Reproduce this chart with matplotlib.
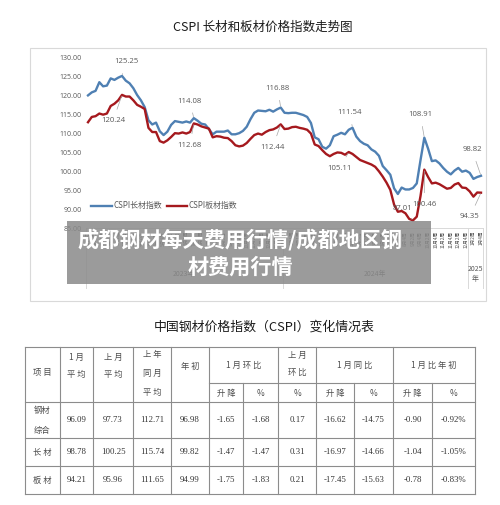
import matplotlib
matplotlib.use('Agg')
import matplotlib.pyplot as plt
from matplotlib.patches import Rectangle
import matplotlib.transforms as mtransforms

plt.rcParams['font.family'] = ['Noto Sans CJK SC', 'DejaVu Sans']

# ---------------- data ----------------
chart_title = 'CSPI 长材和板材价格指数走势图'
series_names = ['CSPI长材指数', 'CSPI板材指数']

long_index = [120.1, 120.9, 121.3, 123.6, 122.5, 122.7, 124.6, 124.2, 124.8, 125.25,
              124.0, 123.3, 122.0, 120.2, 118.8, 117.0, 113.5, 112.4, 112.9, 110.6,
              109.6, 110.5, 112.3, 113.3, 113.1, 112.9, 113.2, 112.9, 114.08, 113.4,
              112.6, 112.4, 111.2, 109.8, 110.5, 110.5, 110.5, 110.8, 109.8, 109.8,
              110.1, 110.7, 111.8, 113.8, 115.5, 116.1, 116.0, 115.9, 116.3, 115.8,
              116.4, 116.88, 115.5, 115.4, 115.5, 115.5, 115.2, 114.9, 114.4, 112.8,
              109.0, 108.5, 106.5, 106.0, 106.9, 109.3, 109.7, 110.2, 109.8, 111.0,
              111.54, 109.2, 108.0, 107.3, 106.9, 105.8, 105.2, 104.1, 101.4, 100.3,
              99.1, 95.5, 94.0, 95.7, 95.2, 95.2, 95.6, 96.8, 103.0, 108.91,
              106.0, 102.7, 102.9, 102.1, 100.9, 99.9, 99.2, 100.2, 100.9, 99.9,
              100.2, 99.6, 98.0, 98.5, 98.82]

plate_index = [113.0, 114.4, 114.6, 115.3, 115.0, 115.3, 117.3, 117.9, 118.8, 120.24,
               119.8, 119.8, 118.8, 117.6, 117.1, 116.5, 111.5, 110.4, 110.4, 108.0,
               107.6, 108.2, 109.1, 110.1, 110.0, 110.3, 110.0, 110.4, 112.68, 112.4,
               111.9, 111.6, 111.3, 109.0, 109.3, 109.2, 108.9, 108.8, 108.0, 106.9,
               106.6, 106.8, 107.5, 108.6, 109.6, 110.0, 109.7, 110.4, 110.9, 111.1,
               111.6, 112.44, 111.2, 111.3, 111.7, 111.8, 111.5, 111.3, 111.0, 110.0,
               107.1, 106.7, 105.6, 104.6, 104.0, 104.6, 105.0, 104.9, 104.4, 105.11,
               104.6, 103.8, 103.0, 102.6, 102.2, 101.8, 101.2, 100.0, 98.6, 97.0,
               95.1, 91.2, 89.3, 89.5, 88.9, 87.4, 87.01, 88.0, 93.5, 100.46,
               98.5, 96.8, 97.0, 96.6, 96.0, 95.4, 95.6, 96.5, 96.9, 95.7,
               95.6, 94.7, 93.3, 94.4, 94.35]

years = ['2023年', '2024年', '2025\n年']
weeks_per_month = [
    [4, 4, 5, 4, 4, 5, 4, 4, 5, 4, 4, 5],
    [4, 4, 4, 4, 5, 4, 4, 4, 4, 4, 4, 4],
    [4],
]

# (series, point index, label, text offset px)
annotations = [
    (0, 9, '125.25', (4, 14)),
    (1, 9, '120.24', (-9, -26)),
    (0, 28, '114.08', (-4, 17)),
    (1, 28, '112.68', (-4, -22)),
    (0, 51, '116.88', (-3, 19)),
    (1, 51, '112.44', (-8, -23)),
    (0, 70, '111.54', (-3, 15)),
    (1, 69, '105.11', (-9, -16)),
    (0, 89, '108.91', (-4, 23)),
    (1, 86, '87.01', (-11, 12)),
    (1, 89, '100.46', (0, -35)),
    (0, 104, '98.82', (-9, 26)),
    (1, 104, '94.35', (-11, -24)),
]

banner_lines = ['成都钢材每天费用行情/成都地区钢', '材费用行情']

table_title = '中国钢材价格指数（CSPI）变化情况表'
row_labels = [['钢材', '综合'], ['长材'], ['板材']]
table_values = [
    ['96.09', '97.73', '112.71', '96.98', '-1.65', '-1.68', '0.17', '-16.62', '-14.75', '-0.90', '-0.92%'],
    ['98.78', '100.25', '115.74', '99.82', '-1.47', '-1.47', '0.31', '-16.97', '-14.66', '-1.04', '-1.05%'],
    ['94.21', '95.96', '111.65', '94.99', '-1.75', '-1.83', '0.21', '-17.45', '-15.63', '-0.78', '-0.83%'],
]

# ---------------- figure ----------------
W, H = 500, 505
fig = plt.figure(figsize=(W / 100, H / 100), dpi=100)
fig.patch.set_facecolor('white')

bg = fig.add_axes([0, 0, 1, 1], zorder=0)
bg.set_xlim(0, W)
bg.set_ylim(H, 0)
bg.axis('off')

BLUE = '#4f80b3'
RED = '#a5191e'
GRAY = '#595959'

# chart frame
bg.add_patch(Rectangle((30, 48), 456, 253, facecolor='white', edgecolor='#d9d9d9', lw=0.8))
bg.text(263, 27, chart_title, ha='center', va='center', fontsize=9, color='#1a1a1a',
        fontweight='medium')

# chart axes
ax = fig.add_axes([86 / W, 1 - 228 / H, (483 - 86) / W, (228 - 58) / H], zorder=1)
ax.patch.set_alpha(0)
n = len(long_index)
xs = list(range(n))
l1, = ax.plot(xs, long_index, color=BLUE, lw=1.7, solid_joinstyle='round')
l2, = ax.plot(xs, plate_index, color=RED, lw=1.7, solid_joinstyle='round')
ax.set_xlim(-0.53, n - 1 + 0.53)
ax.set_ylim(85, 130)
ax.set_yticks([85, 90, 95, 100, 105, 110, 115, 120, 125, 130])
ax.set_yticklabels([f'{v:.2f}' for v in ax.get_yticks()], fontsize=5, color=GRAY,
                   family=['Open Sans', 'DejaVu Sans'])
ax.tick_params(axis='y', length=0, pad=3)
for s in ['top', 'right', 'left']:
    ax.spines[s].set_visible(False)
ax.spines['bottom'].set_color('#d9d9d9')
ax.spines['bottom'].set_linewidth(0.7)

# x tick labels (every second week)
labels = []
for months in weeks_per_month:
    for m, nw in enumerate(months):
        for w in range(nw):
            labels.append(f'{m + 1}月{w + 1}周')
tick_pos = [i for i in range(len(labels)) if i % 2 == 0]
ax.set_xticks(tick_pos)
ax.set_xticklabels([labels[i] for i in tick_pos], rotation=90, fontsize=3.4, color=GRAY)
ax.tick_params(axis='x', length=0, pad=2)

# year grouping
trans = mtransforms.blended_transform_factory(ax.transData, ax.transAxes)
bounds = [0]
for months in weeks_per_month:
    bounds.append(bounds[-1] + sum(months))
for b in bounds:
    ax.plot([b - 0.5, b - 0.5], [0, -0.35], transform=trans, color='#d9d9d9', lw=0.7,
            clip_on=False)
for k, yl in enumerate(years):
    cx = (bounds[k] + bounds[k + 1] - 1) / 2
    ax.text(cx, -0.27, yl, transform=trans, ha='center', va='center', fontsize=5,
            color=GRAY, linespacing=1.3)

# annotations
series = [long_index, plate_index]
for si, idx, txt, (dx, dy) in annotations:
    ax.annotate(txt, xy=(idx, series[si][idx]), xytext=(dx, dy), textcoords='offset pixels',
                ha='center', va='center', fontsize=5.6, color=GRAY,
                family=['Open Sans', 'DejaVu Sans'],
                arrowprops=dict(arrowstyle='-', color='#a6a6a6', lw=0.5, shrinkA=4, shrinkB=1))

leg = ax.legend([l1, l2], series_names, loc='center left', bbox_to_anchor=(0.005, 0.13),
                ncol=2, frameon=False, fontsize=5.7, handlelength=2.6, handletextpad=0.2,
                columnspacing=0.6, borderaxespad=0)
for t in leg.get_texts():
    t.set_color(GRAY)

# ---------------- table ----------------
bg.text(264, 327, table_title, ha='center', va='center', fontsize=9.3, color='#1a1a1a')
cols = [25, 60, 93, 133, 171, 209, 243, 278, 316, 354, 393, 432, 475]
y_top, y_mid, y_hdr = 347, 383, 402
row_edges = [402, 438, 466, 494]
LC = '#8c8c8c'
for yv in [y_top] + row_edges:
    bg.plot([cols[0], cols[-1]], [yv, yv], color=LC, lw=0.8)
bg.plot([cols[5], cols[-1]], [y_mid, y_mid], color=LC, lw=0.8)
for i, xv in enumerate(cols):
    y0 = y_mid if xv in (243, 354, 432) else y_top
    bg.plot([xv, xv], [y0, row_edges[-1]], color=LC, lw=0.8)

HC = '#4d4d4d'
hfs = 6


def htext(x, y, s):
    bg.text(x, y, s, ha='center', va='center', fontsize=hfs, color=HC, fontweight='light')


htext(42.5, 372, '项 目')
htext(76.5, 357, '1 月')
htext(76.5, 374, '平 均')
htext(113, 357, '上 月')
htext(113, 374, '平 均')
htext(152, 355, '上 年')
htext(152, 373, '同 月')
htext(152, 392, '平 均')
htext(190, 366, '年 初')
htext(243.5, 365, '1 月 环 比')
htext(297, 355, '上 月')
htext(297, 372, '环 比')
htext(354.5, 365, '1 月 同 比')
htext(433.5, 365, '1 月 比 年 初')
sub = ['升 降', '%', '%', '升 降', '%', '升 降', '%']
sub_cols = [5, 6, 7, 8, 9, 10, 11]
for s, c in zip(sub, sub_cols):
    htext((cols[c] + cols[c + 1]) / 2, 393, s)

row_centers = [420, 452, 480]
for r, (lab, vals) in enumerate(zip(row_labels, table_values)):
    cy = row_centers[r]
    if len(lab) == 2:
        htext(42.5, cy - 10, lab[0])
        htext(42.5, cy + 10, lab[1])
    else:
        htext(42.5, cy, ' '.join(lab[0]))
    for c, v in enumerate(vals):
        bg.text((cols[c + 1] + cols[c + 2]) / 2, cy, v, ha='center', va='center',
                fontsize=6.3, color='#333333', family=['Liberation Serif', 'DejaVu Serif'])

# ---------------- banner overlay ----------------
top = fig.add_axes([0, 0, 1, 1], zorder=5)
top.set_xlim(0, W)
top.set_ylim(H, 0)
top.axis('off')
top.patch.set_alpha(0)
top.add_patch(Rectangle((67, 221), 364, 63, facecolor='#8a8a8a', edgecolor='none', alpha=0.85))
top.text(240, 240, banner_lines[0], ha='center', va='center', fontsize=15.2, color='white',
         fontweight='bold')
top.text(240, 267, banner_lines[1], ha='center', va='center', fontsize=15.2, color='white',
         fontweight='bold')

fig.savefig('out.png', dpi=100, facecolor='white')
